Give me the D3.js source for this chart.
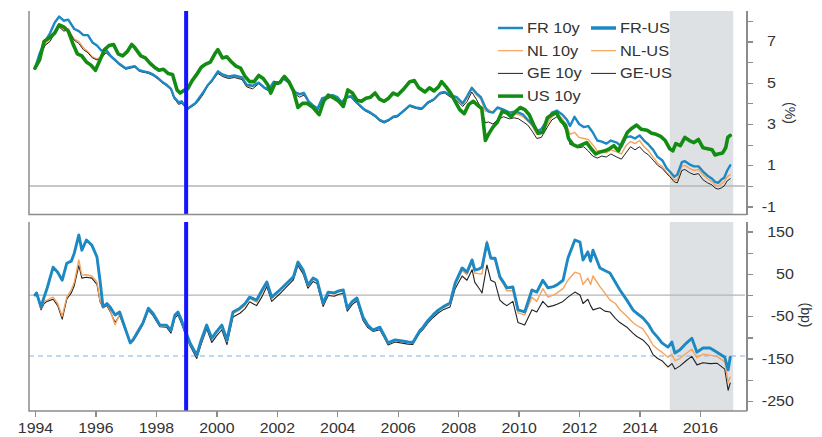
<!DOCTYPE html>
<meta charset="utf-8" />
<style>
  body { margin: 0; background: #fff; font: 13px Arial, "Liberation Sans", sans-serif; }
  .axis path, .axis line { stroke: #8c8c8c; stroke-width: 1.3; fill: none; shape-rendering: crispEdges; }
  .axis text { fill: #333; font-size: 14px; font-family: Arial, "Liberation Sans", sans-serif; }
  .xaxis text { font-size: 15px; }
  .line { fill: none; stroke-linejoin: round; stroke-linecap: round; }
  .legend { fill: #333; font-size: 14px; }
</style>
<body>
<script src="https://d3js.org/d3.v7.min.js"></script>
<script>
// year ticks on the shared x axis
var yearTicks = [1994, 1996, 1998, 2000, 2002, 2004, 2006, 2008, 2010, 2012, 2014, 2016];
var yieldTicks = [-1, 0, 1, 2, 3, 4, 5, 6, 7, 8];
var yieldLabels = [-1, 1, 3, 5, 7];
var spreadTicks = [-250, -200, -150, -100, -50, 0, 50, 100, 150];
var spreadLabels = [-250, -150, -50, 50, 150];
var euroStart = 1999.0;
var shadeYears = [2015.0, 2017.1];
var spreadRef = -144;

// 10y yields (%), [decimal year, value]
var fr10 = [[1994.0,5.7],[1994.15,6.4],[1994.33,7.0],[1994.5,7.4],[1994.65,7.9],[1994.8,8.2],[1994.95,8.0],[1995.1,8.05],[1995.3,7.6],[1995.45,7.5],[1995.6,7.3],[1995.75,7.3],[1995.9,6.95],[1996.05,6.8],[1996.2,6.55],[1996.35,6.6],[1996.5,6.3],[1996.65,6.1],[1996.8,5.9],[1997.0,5.7],[1997.15,5.75],[1997.3,5.8],[1997.45,5.6],[1997.6,5.55],[1997.75,5.5],[1997.9,5.4],[1998.05,5.25],[1998.2,5.05],[1998.35,4.9],[1998.5,4.7],[1998.6,4.3],[1998.75,4.05],[1998.85,4.1],[1998.95,3.9],[1999.05,3.75],[1999.15,3.85],[1999.3,4.0],[1999.4,4.2],[1999.55,4.5],[1999.7,4.85],[1999.85,5.1],[2000.05,5.55],[2000.2,5.4],[2000.4,5.3],[2000.6,5.35],[2000.85,5.25],[2001.0,4.9],[2001.2,4.85],[2001.4,5.0],[2001.6,4.75],[2001.75,4.7],[2001.9,5.05],[2002.05,4.95],[2002.2,5.25],[2002.4,5.0],[2002.6,4.55],[2002.75,4.45],[2002.9,4.5],[2003.05,4.1],[2003.2,3.9],[2003.35,3.75],[2003.5,4.25],[2003.65,4.3],[2003.85,4.4],[2004.0,4.3],[2004.15,4.05],[2004.3,4.3],[2004.45,4.35],[2004.6,4.1],[2004.75,3.9],[2004.9,3.7],[2005.1,3.55],[2005.25,3.4],[2005.4,3.2],[2005.55,3.1],[2005.7,3.2],[2005.85,3.35],[2006.0,3.4],[2006.2,3.65],[2006.4,3.9],[2006.6,3.8],[2006.8,3.75],[2007.0,4.05],[2007.2,4.2],[2007.4,4.5],[2007.55,4.55],[2007.75,4.4],[2007.95,4.3],[2008.15,4.0],[2008.3,4.35],[2008.45,4.75],[2008.6,4.5],[2008.75,4.3],[2008.9,3.8],[2009.0,3.6],[2009.15,3.55],[2009.3,3.8],[2009.5,3.7],[2009.7,3.55],[2009.85,3.6],[2010.0,3.55],[2010.15,3.45],[2010.3,3.2],[2010.45,3.0],[2010.6,2.65],[2010.75,2.75],[2010.95,3.2],[2011.1,3.55],[2011.27,3.65],[2011.45,3.45],[2011.6,3.2],[2011.7,2.9],[2011.85,3.35],[2012.0,3.0],[2012.15,2.85],[2012.3,2.9],[2012.45,2.6],[2012.6,2.2],[2012.75,2.15],[2012.9,2.05],[2013.05,2.2],[2013.25,2.1],[2013.4,1.9],[2013.55,2.35],[2013.7,2.4],[2013.85,2.3],[2014.0,2.45],[2014.15,2.2],[2014.3,2.0],[2014.45,1.75],[2014.6,1.4],[2014.75,1.25],[2014.9,0.85],[2015.0,0.7],[2015.15,0.45],[2015.25,0.55],[2015.4,1.15],[2015.5,1.2],[2015.65,1.05],[2015.8,0.95],[2015.95,0.95],[2016.1,0.7],[2016.25,0.5],[2016.4,0.35],[2016.5,0.2],[2016.6,0.15],[2016.7,0.3],[2016.8,0.4],[2016.9,0.75],[2017.0,1.0]];

var nl10 = [[1994.0,5.7],[1994.15,6.25],[1994.33,6.85],[1994.5,7.1],[1994.65,7.5],[1994.8,7.8],[1994.95,7.55],[1995.1,7.6],[1995.3,7.1],[1995.45,7.0],[1995.6,6.7],[1995.75,6.5],[1995.9,6.25],[1996.05,6.15],[1996.2,6.25],[1996.35,6.5],[1996.5,6.3],[1996.65,6.05],[1996.8,5.9],[1997.0,5.7],[1997.15,5.75],[1997.3,5.8],[1997.45,5.6],[1997.6,5.5],[1997.75,5.5],[1997.9,5.4],[1998.05,5.2],[1998.2,5.05],[1998.35,4.9],[1998.5,4.7],[1998.6,4.3],[1998.75,4.0],[1998.85,4.05],[1998.95,3.9],[1999.05,3.75],[1999.15,3.85],[1999.3,4.0],[1999.4,4.15],[1999.55,4.45],[1999.7,4.85],[1999.85,5.1],[2000.05,5.5],[2000.2,5.35],[2000.4,5.25],[2000.6,5.3],[2000.85,5.2],[2001.0,4.85],[2001.2,4.8],[2001.4,5.0],[2001.6,4.75],[2001.75,4.65],[2001.9,5.0],[2002.05,4.95],[2002.2,5.25],[2002.4,5.0],[2002.6,4.5],[2002.75,4.4],[2002.9,4.45],[2003.05,4.1],[2003.2,3.9],[2003.35,3.7],[2003.5,4.2],[2003.65,4.25],[2003.85,4.4],[2004.0,4.25],[2004.15,4.05],[2004.3,4.3],[2004.45,4.35],[2004.6,4.1],[2004.75,3.85],[2004.9,3.7],[2005.1,3.55],[2005.25,3.4],[2005.4,3.2],[2005.55,3.1],[2005.7,3.2],[2005.85,3.35],[2006.0,3.4],[2006.2,3.65],[2006.4,3.9],[2006.6,3.8],[2006.8,3.75],[2007.0,4.05],[2007.2,4.2],[2007.4,4.5],[2007.55,4.55],[2007.75,4.35],[2007.95,4.25],[2008.15,3.95],[2008.3,4.25],[2008.45,4.7],[2008.6,4.4],[2008.75,4.2],[2008.9,3.6],[2009.0,3.7],[2009.15,3.55],[2009.3,3.75],[2009.5,3.65],[2009.7,3.5],[2009.85,3.5],[2010.0,3.45],[2010.15,3.35],[2010.3,3.15],[2010.45,2.9],[2010.6,2.5],[2010.75,2.6],[2010.95,3.0],[2011.1,3.35],[2011.27,3.5],[2011.45,3.25],[2011.6,2.9],[2011.7,2.5],[2011.85,2.6],[2012.0,2.35],[2012.15,2.3],[2012.3,2.25],[2012.45,2.0],[2012.6,1.7],[2012.75,1.7],[2012.9,1.6],[2013.05,1.75],[2013.25,1.65],[2013.4,1.55],[2013.55,1.95],[2013.7,2.15],[2013.85,2.05],[2014.0,2.2],[2014.15,1.9],[2014.3,1.7],[2014.45,1.4],[2014.6,1.1],[2014.75,0.95],[2014.9,0.65],[2015.0,0.5],[2015.15,0.3],[2015.25,0.3],[2015.4,0.95],[2015.5,1.0],[2015.65,0.85],[2015.8,0.75],[2015.95,0.8],[2016.1,0.55],[2016.25,0.35],[2016.4,0.2],[2016.5,0.05],[2016.6,0.0],[2016.7,0.1],[2016.8,0.2],[2016.9,0.45],[2017.0,0.55]];

var ge10 = [[1994.0,5.65],[1994.15,6.2],[1994.33,6.8],[1994.5,7.0],[1994.65,7.4],[1994.8,7.7],[1994.95,7.5],[1995.1,7.55],[1995.3,7.05],[1995.45,6.9],[1995.6,6.6],[1995.75,6.45],[1995.9,6.2],[1996.05,6.1],[1996.2,6.2],[1996.35,6.45],[1996.5,6.25],[1996.65,6.05],[1996.8,5.85],[1997.0,5.65],[1997.15,5.7],[1997.3,5.75],[1997.45,5.55],[1997.6,5.5],[1997.75,5.45],[1997.9,5.35],[1998.05,5.2],[1998.2,5.0],[1998.35,4.85],[1998.5,4.65],[1998.6,4.25],[1998.75,3.95],[1998.85,4.0],[1998.95,3.85],[1999.05,3.7],[1999.15,3.8],[1999.3,3.95],[1999.4,4.1],[1999.55,4.4],[1999.7,4.8],[1999.85,5.05],[2000.05,5.45],[2000.2,5.3],[2000.4,5.2],[2000.6,5.25],[2000.85,5.15],[2001.0,4.8],[2001.2,4.7],[2001.4,4.95],[2001.6,4.7],[2001.75,4.6],[2001.9,4.95],[2002.05,4.9],[2002.2,5.2],[2002.4,4.95],[2002.6,4.45],[2002.75,4.3],[2002.9,4.4],[2003.05,4.05],[2003.2,3.85],[2003.35,3.65],[2003.5,4.15],[2003.65,4.2],[2003.85,4.35],[2004.0,4.2],[2004.15,4.0],[2004.3,4.25],[2004.45,4.3],[2004.6,4.05],[2004.75,3.85],[2004.9,3.65],[2005.1,3.5],[2005.25,3.35],[2005.4,3.15],[2005.55,3.05],[2005.7,3.15],[2005.85,3.3],[2006.0,3.35],[2006.2,3.6],[2006.4,3.85],[2006.6,3.75],[2006.8,3.7],[2007.0,4.0],[2007.2,4.15],[2007.4,4.45],[2007.55,4.5],[2007.75,4.3],[2007.95,4.15],[2008.15,3.85],[2008.3,4.1],[2008.45,4.55],[2008.6,4.2],[2008.75,3.8],[2008.9,3.05],[2009.0,3.1],[2009.15,3.0],[2009.3,3.2],[2009.5,3.35],[2009.7,3.25],[2009.85,3.3],[2010.0,3.25],[2010.15,3.1],[2010.3,2.95],[2010.45,2.65],[2010.6,2.3],[2010.75,2.35],[2010.95,2.85],[2011.1,3.2],[2011.27,3.35],[2011.45,3.0],[2011.6,2.6],[2011.7,2.0],[2011.85,2.0],[2012.0,1.85],[2012.15,1.9],[2012.3,1.7],[2012.45,1.45],[2012.6,1.35],[2012.75,1.45],[2012.9,1.4],[2013.05,1.55],[2013.25,1.4],[2013.4,1.3],[2013.55,1.6],[2013.7,1.9],[2013.85,1.75],[2014.0,1.9],[2014.15,1.65],[2014.3,1.5],[2014.45,1.25],[2014.6,1.0],[2014.75,0.85],[2014.9,0.6],[2015.0,0.45],[2015.15,0.2],[2015.25,0.15],[2015.4,0.75],[2015.5,0.8],[2015.65,0.65],[2015.8,0.55],[2015.95,0.6],[2016.1,0.3],[2016.25,0.15],[2016.4,0.05],[2016.5,-0.1],[2016.6,-0.15],[2016.7,-0.1],[2016.8,0.0],[2016.9,0.25],[2017.0,0.35]];

var us10 = [[1994.0,5.7],[1994.15,6.1],[1994.3,7.0],[1994.5,7.2],[1994.65,7.4],[1994.8,7.8],[1994.95,7.7],[1995.1,7.5],[1995.25,6.9],[1995.4,6.4],[1995.55,6.3],[1995.7,6.0],[1995.85,5.85],[1996.0,5.6],[1996.15,6.1],[1996.3,6.6],[1996.45,6.8],[1996.6,6.85],[1996.75,6.4],[1996.9,6.3],[1997.05,6.5],[1997.2,6.85],[1997.3,6.7],[1997.5,6.3],[1997.65,6.2],[1997.8,5.95],[1997.95,5.75],[1998.1,5.6],[1998.25,5.65],[1998.4,5.45],[1998.55,5.4],[1998.7,4.65],[1998.8,4.5],[1998.95,4.65],[1999.05,4.7],[1999.2,5.1],[1999.35,5.4],[1999.5,5.75],[1999.65,5.9],[1999.8,6.0],[1999.95,6.4],[2000.05,6.6],[2000.2,6.2],[2000.35,6.25],[2000.5,6.0],[2000.65,5.8],[2000.8,5.7],[2000.95,5.3],[2001.1,5.05],[2001.25,5.05],[2001.4,5.35],[2001.55,5.2],[2001.7,4.9],[2001.8,4.5],[2001.95,5.0],[2002.1,5.0],[2002.25,5.3],[2002.4,5.05],[2002.55,4.6],[2002.7,3.8],[2002.85,4.0],[2003.0,4.0],[2003.2,3.8],[2003.4,3.45],[2003.55,4.1],[2003.7,4.4],[2003.9,4.25],[2004.05,4.1],[2004.2,3.85],[2004.35,4.65],[2004.5,4.5],[2004.65,4.15],[2004.8,4.1],[2004.95,4.25],[2005.1,4.3],[2005.25,4.5],[2005.4,4.2],[2005.55,4.1],[2005.7,4.25],[2005.85,4.5],[2006.0,4.4],[2006.2,4.7],[2006.4,5.05],[2006.55,5.1],[2006.7,4.75],[2006.9,4.55],[2007.05,4.75],[2007.2,4.6],[2007.35,4.8],[2007.45,5.05],[2007.6,4.8],[2007.75,4.5],[2007.9,4.1],[2008.05,3.7],[2008.2,3.5],[2008.35,3.95],[2008.5,4.1],[2008.65,3.9],[2008.78,3.75],[2008.9,2.2],[2009.0,2.5],[2009.15,2.85],[2009.3,3.1],[2009.45,3.6],[2009.6,3.55],[2009.75,3.35],[2009.9,3.6],[2010.05,3.8],[2010.2,3.7],[2010.35,3.45],[2010.5,2.95],[2010.65,2.55],[2010.8,2.6],[2010.95,3.3],[2011.1,3.45],[2011.25,3.55],[2011.4,3.15],[2011.55,2.95],[2011.65,2.3],[2011.8,2.0],[2011.95,1.9],[2012.1,2.0],[2012.25,2.1],[2012.4,1.8],[2012.55,1.55],[2012.7,1.65],[2012.85,1.7],[2013.0,1.8],[2013.15,1.95],[2013.3,1.7],[2013.45,2.15],[2013.6,2.6],[2013.75,2.8],[2013.9,2.95],[2014.05,2.75],[2014.25,2.7],[2014.4,2.55],[2014.55,2.5],[2014.7,2.4],[2014.85,2.2],[2015.0,1.8],[2015.1,1.7],[2015.2,2.05],[2015.35,1.95],[2015.5,2.35],[2015.65,2.2],[2015.8,2.1],[2015.95,2.25],[2016.1,1.85],[2016.25,1.8],[2016.4,1.75],[2016.5,1.5],[2016.6,1.55],[2016.75,1.6],[2016.85,1.85],[2016.92,2.35],[2017.0,2.45]];

// spreads vs US (bp)
var frUs = [[1994.0,0],[1994.05,5],[1994.2,-28],[1994.3,-5],[1994.4,16],[1994.6,66],[1994.75,54],[1994.9,35],[1995.05,75],[1995.2,80],[1995.3,99],[1995.45,142],[1995.55,106],[1995.7,130],[1995.88,118],[1996.05,90],[1996.15,35],[1996.25,-28],[1996.38,-20],[1996.48,-28],[1996.65,-47],[1996.8,-40],[1996.98,-78],[1997.15,-113],[1997.25,-105],[1997.37,-90],[1997.57,-66],[1997.75,-31],[1997.9,-43],[1998.0,-55],[1998.13,-71],[1998.35,-71],[1998.5,-83],[1998.63,-47],[1998.73,-40],[1998.85,-60],[1998.96,-83],[1999.13,-113],[1999.35,-142],[1999.5,-106],[1999.68,-71],[1999.85,-102],[2000.0,-87],[2000.18,-71],[2000.35,-106],[2000.55,-40],[2000.78,-31],[2000.95,-20],[2001.1,-5],[2001.33,-12],[2001.5,10],[2001.67,31],[2001.83,-5],[2002.1,12],[2002.33,28],[2002.55,43],[2002.7,78],[2002.87,59],[2003.03,24],[2003.2,40],[2003.33,35],[2003.53,-19],[2003.7,7],[2003.9,5],[2004.05,10],[2004.2,12],[2004.33,-31],[2004.5,-15],[2004.65,-7],[2004.85,-52],[2005.0,-70],[2005.18,-83],[2005.41,-76],[2005.55,-95],[2005.68,-113],[2005.91,-106],[2006.1,-108],[2006.34,-111],[2006.5,-112],[2006.74,-83],[2006.84,-76],[2007.0,-60],[2007.17,-47],[2007.35,-35],[2007.5,-28],[2007.73,-19],[2007.9,28],[2008.13,64],[2008.29,54],[2008.46,83],[2008.55,59],[2008.7,62],[2008.79,66],[2008.95,123],[2009.08,87],[2009.22,87],[2009.38,43],[2009.5,30],[2009.61,17],[2009.81,19],[2009.98,-35],[2010.2,-40],[2010.44,12],[2010.6,7],[2010.8,35],[2010.97,17],[2011.15,20],[2011.27,24],[2011.47,35],[2011.63,87],[2011.86,130],[2012.03,125],[2012.13,83],[2012.29,102],[2012.38,80],[2012.46,106],[2012.69,64],[2012.85,58],[2013.02,52],[2013.2,30],[2013.35,12],[2013.58,-12],[2013.78,-35],[2013.91,-43],[2014.11,-54],[2014.3,-70],[2014.44,-87],[2014.6,-100],[2014.74,-113],[2014.94,-123],[2015.07,-111],[2015.17,-137],[2015.33,-130],[2015.56,-113],[2015.73,-102],[2015.9,-135],[2016.1,-125],[2016.33,-125],[2016.56,-135],[2016.82,-147],[2016.93,-177],[2017.0,-147]];

var nlUs = [[1994.0,0],[1994.05,5],[1994.2,-31],[1994.3,-15],[1994.4,-12],[1994.6,-5],[1994.75,-20],[1994.9,-50],[1995.05,-5],[1995.2,12],[1995.3,30],[1995.45,83],[1995.55,47],[1995.7,48],[1995.88,45],[1996.05,31],[1996.15,-12],[1996.25,-28],[1996.38,-22],[1996.48,-35],[1996.65,-70],[1996.8,-45],[1996.98,-80],[1997.15,-113],[1997.25,-106],[1997.37,-92],[1997.57,-68],[1997.75,-33],[1997.9,-45],[1998.0,-56],[1998.13,-72],[1998.35,-72],[1998.5,-85],[1998.63,-49],[1998.73,-42],[1998.85,-62],[1998.96,-85],[1999.13,-115],[1999.35,-145],[1999.5,-110],[1999.68,-74],[1999.85,-105],[2000.0,-90],[2000.18,-74],[2000.35,-110],[2000.55,-44],[2000.78,-35],[2000.95,-24],[2001.1,-8],[2001.33,-17],[2001.5,5],[2001.67,28],[2001.83,-8],[2002.1,10],[2002.33,27],[2002.55,42],[2002.7,76],[2002.87,57],[2003.03,22],[2003.2,38],[2003.33,33],[2003.53,-21],[2003.7,5],[2003.9,3],[2004.05,8],[2004.2,10],[2004.33,-33],[2004.5,-17],[2004.65,-9],[2004.85,-55],[2005.0,-72],[2005.18,-80],[2005.41,-78],[2005.55,-97],[2005.68,-115],[2005.91,-108],[2006.1,-110],[2006.34,-113],[2006.5,-114],[2006.74,-85],[2006.84,-78],[2007.0,-62],[2007.17,-49],[2007.35,-37],[2007.5,-30],[2007.73,-22],[2007.9,24],[2008.13,58],[2008.29,48],[2008.46,78],[2008.55,52],[2008.7,50],[2008.79,50],[2008.95,128],[2009.08,90],[2009.22,82],[2009.38,38],[2009.5,25],[2009.61,10],[2009.81,10],[2009.98,-42],[2010.2,-47],[2010.44,-5],[2010.6,-15],[2010.8,15],[2010.97,-5],[2011.15,0],[2011.27,5],[2011.47,15],[2011.63,35],[2011.86,54],[2012.03,50],[2012.13,25],[2012.29,40],[2012.38,25],[2012.46,45],[2012.69,20],[2012.85,5],[2013.02,-12],[2013.2,-20],[2013.35,-35],[2013.58,-50],[2013.78,-65],[2013.91,-72],[2014.11,-80],[2014.3,-100],[2014.44,-118],[2014.6,-128],[2014.74,-135],[2014.94,-147],[2015.07,-140],[2015.17,-155],[2015.33,-150],[2015.56,-137],[2015.73,-128],[2015.9,-148],[2016.1,-140],[2016.33,-142],[2016.56,-145],[2016.82,-158],[2016.93,-206],[2017.0,-194]];

var geUs = [[1994.0,0],[1994.05,3],[1994.2,-35],[1994.3,-20],[1994.4,-15],[1994.6,-10],[1994.75,-25],[1994.9,-57],[1995.05,-10],[1995.2,5],[1995.3,22],[1995.45,70],[1995.55,40],[1995.7,42],[1995.88,40],[1996.05,25],[1996.15,-15],[1996.25,-30],[1996.38,-25],[1996.48,-38],[1996.65,-65],[1996.8,-48],[1996.98,-82],[1997.15,-115],[1997.25,-108],[1997.37,-95],[1997.57,-70],[1997.75,-36],[1997.9,-48],[1998.0,-60],[1998.13,-75],[1998.35,-76],[1998.5,-90],[1998.63,-54],[1998.73,-47],[1998.85,-68],[1998.96,-90],[1999.13,-120],[1999.35,-150],[1999.5,-116],[1999.68,-80],[1999.85,-112],[2000.0,-97],[2000.18,-82],[2000.35,-117],[2000.55,-52],[2000.78,-43],[2000.95,-32],[2001.1,-16],[2001.33,-25],[2001.5,-5],[2001.67,20],[2001.83,-15],[2002.1,3],[2002.33,20],[2002.55,36],[2002.7,70],[2002.87,50],[2003.03,16],[2003.2,32],[2003.33,27],[2003.53,-27],[2003.7,-1],[2003.9,-3],[2004.05,2],[2004.2,4],[2004.33,-38],[2004.5,-22],[2004.65,-14],[2004.85,-60],[2005.0,-76],[2005.18,-86],[2005.41,-82],[2005.55,-100],[2005.68,-118],[2005.91,-111],[2006.1,-113],[2006.34,-116],[2006.5,-117],[2006.74,-88],[2006.84,-81],[2007.0,-66],[2007.17,-53],[2007.35,-42],[2007.5,-35],[2007.73,-28],[2007.9,15],[2008.13,45],[2008.29,35],[2008.46,60],[2008.55,30],[2008.7,15],[2008.79,5],[2008.95,71],[2009.08,35],[2009.22,30],[2009.38,-12],[2009.5,-20],[2009.61,-25],[2009.81,-15],[2009.98,-65],[2010.2,-71],[2010.44,-35],[2010.6,-40],[2010.8,-15],[2010.97,-28],[2011.15,-25],[2011.27,-22],[2011.47,-15],[2011.63,-5],[2011.86,7],[2012.03,0],[2012.13,-20],[2012.29,-10],[2012.38,-25],[2012.46,-35],[2012.69,-30],[2012.85,-38],[2013.02,-40],[2013.2,-55],[2013.35,-65],[2013.58,-76],[2013.78,-90],[2013.91,-98],[2014.11,-106],[2014.3,-120],[2014.44,-140],[2014.6,-150],[2014.74,-155],[2014.94,-170],[2015.07,-162],[2015.17,-175],[2015.33,-168],[2015.56,-154],[2015.73,-145],[2015.9,-165],[2016.1,-160],[2016.33,-162],[2016.56,-161],[2016.82,-175],[2016.93,-225],[2017.0,-208]];

var legendLabels = ["FR 10y", "FR-US", "NL 10y", "NL-US", "GE 10y", "GE-US", "US 10y"];

var BLUE = "#1c88c4", ORANGE = "#f6a35c", BLACK = "#222", GREEN = "#138c13";

var width = 822, height = 437;
var left = 29, right = 747;
var stretch = 1.15; // source text is drawn a bit wide

var svg = d3.select("body").append("svg")
  .attr("width", width).attr("height", height);

var x = d3.scaleLinear().domain([1994, 2016]).range([35, 700]);
var yTop = d3.scaleLinear().domain([-1.38, 8.47]).range([214.5, 11]);
var yBot = d3.scaleLinear().domain([-274, 172.6]).range([411, 222]);

function panel(y, name) {
  var r = y.range();
  svg.append("clipPath").attr("id", "clip" + name).append("rect")
    .attr("x", left).attr("y", r[1]).attr("width", right - left).attr("height", r[0] - r[1]);
  // shaded period
  svg.append("rect")
    .attr("x", x(shadeYears[0])).attr("y", r[1])
    .attr("width", x(shadeYears[1]) - x(shadeYears[0])).attr("height", r[0] - r[1])
    .attr("fill", "#dde1e3");
  // zero line
  svg.append("line")
    .attr("x1", left).attr("x2", right - 2)
    .attr("y1", y(0)).attr("y2", y(0))
    .attr("stroke", "#b4b4b4").attr("stroke-width", 1.3);
  return svg.append("g").attr("clip-path", "url(#clip" + name + ")");
}

function drawLine(g, data, y, color, w) {
  var line = d3.line()
    .x(function (d) { return x(d[0]); })
    .y(function (d) { return y(d[1]); });
  g.append("path").attr("class", "line")
    .attr("d", line(data))
    .attr("stroke", color).attr("stroke-width", w);
}

var gTop = panel(yTop, "top");
var gBot = panel(yBot, "bot");

// dashed reference level in spread panel
gBot.append("line")
  .attr("x1", left).attr("x2", right)
  .attr("y1", yBot(spreadRef)).attr("y2", yBot(spreadRef))
  .attr("stroke", "#86b2e6").attr("stroke-width", 1.2)
  .attr("stroke-dasharray", "5,4");

drawLine(gTop, nl10, yTop, ORANGE, 1.4);
drawLine(gTop, ge10, yTop, BLACK, 1);
drawLine(gTop, fr10, yTop, BLUE, 2.4);
drawLine(gTop, us10, yTop, GREEN, 3.6);

drawLine(gBot, geUs, yBot, BLACK, 1.1);
drawLine(gBot, nlUs, yBot, ORANGE, 1.4);
drawLine(gBot, frUs, yBot, BLUE, 2.9);

// euro introduction marker
[yTop, yBot].forEach(function (y) {
  svg.append("line")
    .attr("x1", x(euroStart)).attr("x2", x(euroStart))
    .attr("y1", y.range()[1]).attr("y2", y.range()[0])
    .attr("stroke", "#1414ff").attr("stroke-width", 4);
});

// panel frames (left + bottom)
[yTop, yBot].forEach(function (y) {
  var r = y.range();
  svg.append("path")
    .attr("d", "M" + left + "," + r[1] + "V" + r[0] + "H" + right)
    .attr("fill", "none").attr("stroke", "#8c8c8c").attr("stroke-width", 1.5);
});

// right axes
var axTop = svg.append("g").attr("class", "axis")
  .attr("transform", "translate(" + right + ",0)")
  .call(d3.axisRight(yTop).tickValues(yieldTicks).tickSize(6)
    .tickFormat(function (d) { return yieldLabels.indexOf(d) >= 0 ? d : ""; }));
axTop.select(".domain").attr("d", "M0," + yTop.range()[1] + "V" + yTop.range()[0]);
axTop.selectAll("text").attr("text-anchor", "end")
  .attr("x", 29 / stretch).attr("transform", "scale(" + stretch + ",1)");

var axBot = svg.append("g").attr("class", "axis")
  .attr("transform", "translate(" + right + ",0)")
  .call(d3.axisRight(yBot).tickValues(spreadTicks).tickSize(6)
    .tickFormat(function (d) { return spreadLabels.indexOf(d) >= 0 ? d : ""; }));
axBot.select(".domain").attr("d", "M0," + yBot.range()[1] + "V" + yBot.range()[0]);
axBot.selectAll("text").attr("text-anchor", "end")
  .attr("x", 47 / stretch).attr("transform", "scale(" + stretch + ",1)");

// x axis
var axX = svg.append("g").attr("class", "axis xaxis")
  .attr("transform", "translate(0," + yBot.range()[0] + ")")
  .call(d3.axisBottom(x).tickValues(yearTicks).tickSize(6).tickPadding(5)
    .tickFormat(d3.format("d")));
axX.select(".domain").remove();
axX.selectAll("text").attr("transform", "scale(1.06,1)");

// axis titles
svg.append("text").attr("class", "legend")
  .attr("transform", "translate(785,113) rotate(90)")
  .attr("text-anchor", "middle").text("(%)");
svg.append("text").attr("class", "legend")
  .attr("transform", "translate(801,315) rotate(90)")
  .attr("text-anchor", "middle").text("(bp)");

// legend
var legendStyle = [[BLUE, 2.5], [BLUE, 3.5], [ORANGE, 1.2], [ORANGE, 1.2], [BLACK, 1], [BLACK, 1], [GREEN, 3.5]];
legendLabels.forEach(function (lab, i) {
  var col = i % 2, row = Math.floor(i / 2);
  var lx = col === 0 ? 498 : 591, ly = 28 + row * 22.7;
  svg.append("line")
    .attr("x1", lx).attr("x2", lx + 25).attr("y1", ly).attr("y2", ly)
    .attr("stroke", legendStyle[i][0]).attr("stroke-width", legendStyle[i][1]);
  svg.append("text").attr("class", "legend")
    .attr("transform", "translate(" + (lx + 29) + "," + (ly + 5) + ") scale(1.17,1)")
    .text(lab);
});
</script>
</body>
